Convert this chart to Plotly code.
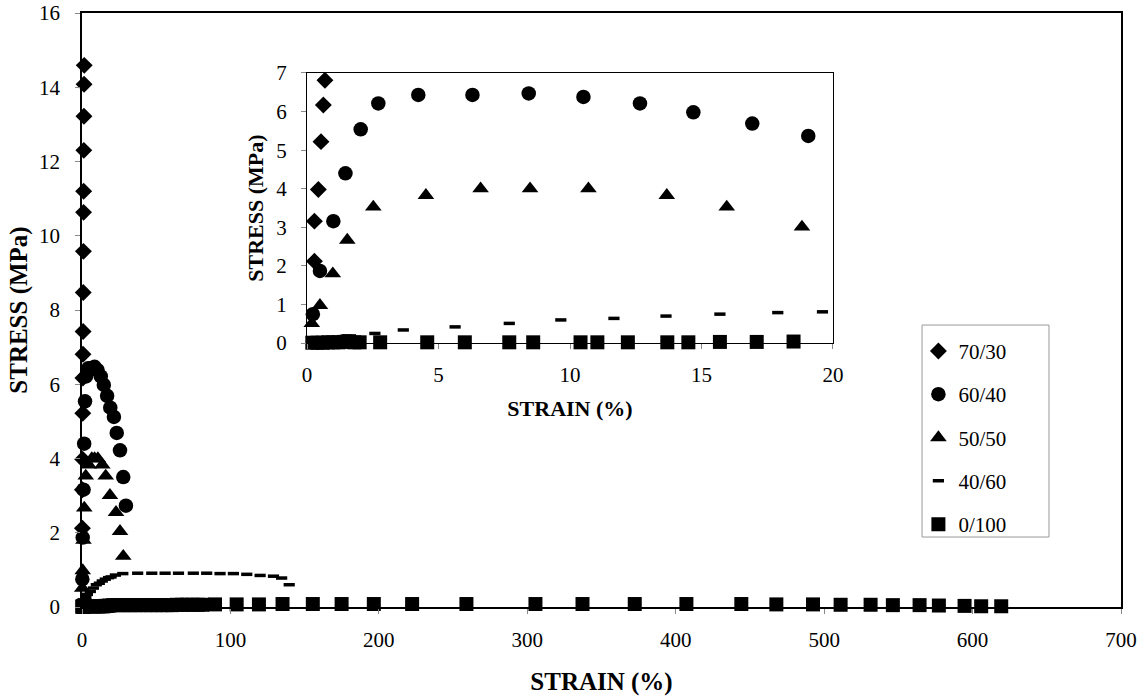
import plotly.graph_objects as go

# ---------------- data ----------------
series_names = ["70/30", "60/40", "50/50", "40/60", "0/100"]

strain_7030 = [0.28, 0.28, 0.43, 0.53, 0.62, 0.68, 0.75, 0.85, 0.95, 1.05, 1.12, 1.22, 1.32, 1.40, 1.50]
stress_7030 = [2.12, 3.16, 3.98, 5.22, 6.17, 6.81, 7.42, 8.47, 9.58, 10.63, 11.20, 12.30, 13.22, 14.08, 14.59]

strain_6040 = [0.22, 0.49, 1.00, 1.46, 2.04, 2.71, 4.23, 6.29, 8.43, 10.51, 12.66, 14.69, 16.93, 19.06,
               21.5, 23.4, 25.6, 27.8, 29.6]
stress_6040 = [0.75, 1.87, 3.16, 4.40, 5.54, 6.21, 6.43, 6.43, 6.47, 6.38, 6.21, 5.98, 5.69, 5.37,
               5.12, 4.69, 4.22, 3.50, 2.73]

strain_5050 = [0.18, 0.49, 0.98, 1.53, 2.52, 4.52, 6.60, 8.48, 10.70, 13.68, 15.96, 18.82, 22.9, 25.6, 27.8]
stress_5050 = [0.51, 0.98, 1.80, 2.67, 3.53, 3.83, 4.00, 4.00, 4.00, 3.83, 3.53, 3.01, 2.55, 2.04, 1.37]

strain_4060 = [0.4, 0.9, 1.48, 2.58, 3.66, 5.63, 7.69, 9.65, 11.67, 13.65, 15.7, 17.9, 19.6,
               22.5, 27.5, 37.5, 47.0, 56.0, 65.0, 75.0, 84.0, 93.0, 102.0, 111.0, 120.0, 129.0, 134.5, 139.6]
stress_4060 = [0.05, 0.11, 0.18, 0.25, 0.34, 0.42, 0.51, 0.60, 0.64, 0.70, 0.75, 0.79, 0.81,
               0.86, 0.90, 0.91, 0.91, 0.91, 0.91, 0.91, 0.91, 0.90, 0.90, 0.88, 0.85, 0.83, 0.78, 0.60]

strain_0100 = [0.2, 0.4, 0.6, 0.8, 1.0, 1.2, 1.4, 1.6, 1.8, 2.0, 2.78, 4.57, 6.0, 7.69, 8.6, 10.4, 11.04,
               12.2, 13.7, 14.5, 15.7, 17.1, 18.5, 21, 24, 27, 30, 33, 36, 39.5, 43, 46.5, 50, 53.5, 57,
               60.5, 64, 67.5, 71, 74.5, 78, 81, 89.6, 104.2, 119.2, 135.1, 155.5, 174.9, 196.6, 222.4,
               259, 305.5, 337.2, 372.4, 407.2, 444.2, 467.8, 492.5, 511.1, 531.3, 546.3, 564.3, 577.3,
               594.6, 605.8, 619.3]
stress_0100 = [0.01, 0.01, 0.01, 0.02, 0.02, 0.02, 0.03, 0.05, 0.02, 0.02, 0.02, 0.02, 0.02, 0.02, 0.02,
               0.02, 0.02, 0.02, 0.02, 0.02, 0.03, 0.03, 0.04, 0.05, 0.05, 0.05, 0.05, 0.05, 0.05, 0.05,
               0.05, 0.05, 0.05, 0.05, 0.05, 0.05, 0.06, 0.06, 0.06, 0.06, 0.06, 0.06, 0.07, 0.07, 0.07,
               0.08, 0.08, 0.08, 0.08, 0.08, 0.08, 0.08, 0.08, 0.08, 0.08, 0.08, 0.07, 0.07, 0.06, 0.06,
               0.05, 0.05, 0.04, 0.03, 0.02, 0.02]

main_x_ticks = [0, 100, 200, 300, 400, 500, 600, 700]
main_y_ticks = [0, 2, 4, 6, 8, 10, 12, 14, 16]
inset_x_ticks = [0, 5, 10, 15, 20]
inset_y_ticks = [0, 1, 2, 3, 4, 5, 6, 7]

# ---------------- styling ----------------
FONT = "Liberation Serif, Times New Roman, serif"
markers = [
    dict(symbol="diamond", size=13, color="black"),
    dict(symbol="circle", size=14.5, color="black"),
    dict(symbol="triangle-up", size=14.5, color="black"),
    dict(symbol="line-ew", size=8, color="black", line=dict(color="black", width=3.5)),
    dict(symbol="square", size=14, color="black"),
]
data = [
    (strain_7030, stress_7030),
    (strain_6040, stress_6040),
    (strain_5050, stress_5050),
    (strain_4060, stress_4060),
    (strain_0100, stress_0100),
]

fig = go.Figure()

# main plot traces
for name, (xs, ys), mk in zip(series_names, data, markers):
    fig.add_trace(go.Scatter(
        x=xs, y=ys, mode="markers", name=name, marker=mk,
        xaxis="x", yaxis="y", cliponaxis=False, legendgroup=name,
    ))

# inset traces (points inside the inset range)
for name, (xs, ys), mk in zip(series_names, data, markers):
    pts = [(a, b) for a, b in zip(xs, ys) if a <= 20.3 and b <= 7.1]
    fig.add_trace(go.Scatter(
        x=[p[0] for p in pts], y=[p[1] for p in pts], mode="markers", name=name,
        marker=mk, xaxis="x2", yaxis="y2", cliponaxis=False, showlegend=False,
    ))

axis_common = dict(
    showline=True, linecolor="black", mirror=True, showgrid=False, zeroline=False,
    ticks="outside", tickcolor="#888", ticklen=5, tickwidth=1, automargin=False,
    ticklabeloverflow="allow",
    tickfont=dict(family=FONT, size=21, color="black"),
)

fig.update_layout(
    width=1145, height=697,
    margin=dict(l=82, r=24, t=13, b=90, autoexpand=False),
    paper_bgcolor="white", plot_bgcolor="white",
    font=dict(family=FONT, color="black"),
    xaxis=dict(
        **axis_common, range=[0, 700], tickvals=main_x_ticks, linewidth=1.5,
        ticklabelstandoff=8,
        title=dict(text="<b>STRAIN (%)</b>", font=dict(family=FONT, size=25), standoff=22),
    ),
    yaxis=dict(
        **axis_common, range=[0, 16], tickvals=main_y_ticks, linewidth=1.5,
        ticklabelstandoff=11,
        title=dict(text="<b>STRESS (MPa)</b>", font=dict(family=FONT, size=25), standoff=4),
    ),
    xaxis2=dict(
        **axis_common, range=[0, 20], tickvals=inset_x_ticks, linewidth=1.2,
        domain=[0.2166, 0.7228], anchor="y2", ticklabelstandoff=8,
        title=dict(text="<b>STRAIN (%)</b>", font=dict(family=FONT, size=22), standoff=14),
    ),
    yaxis2=dict(
        **axis_common, range=[0, 7], tickvals=inset_y_ticks, linewidth=1.2,
        domain=[0.4443, 0.899], anchor="x2", ticklabelstandoff=10,
        title=dict(text="<b>STRESS (MPa)</b>", font=dict(family=FONT, size=22), standoff=6),
    ),
    legend=dict(
        x=0.805, y=0.465, xanchor="left", yanchor="top",
        bgcolor="rgba(0,0,0,0)", borderwidth=0,
        font=dict(family=FONT, size=21, color="black"),
        tracegroupgap=13, itemwidth=30,
    ),
    shapes=[dict(
        type="rect", xref="paper", yref="paper",
        x0=0.8085, x1=0.9307, y0=0.1178, y1=0.4747,
        line=dict(color="#999", width=1), fillcolor="rgba(0,0,0,0)", layer="below",
    )],
    showlegend=True,
)

# remove the default page margin so the figure sits at the window's top-left corner
fig.write_html("out.html", config={"displayModeBar": False},
               post_script="document.body.style.margin='0';")
